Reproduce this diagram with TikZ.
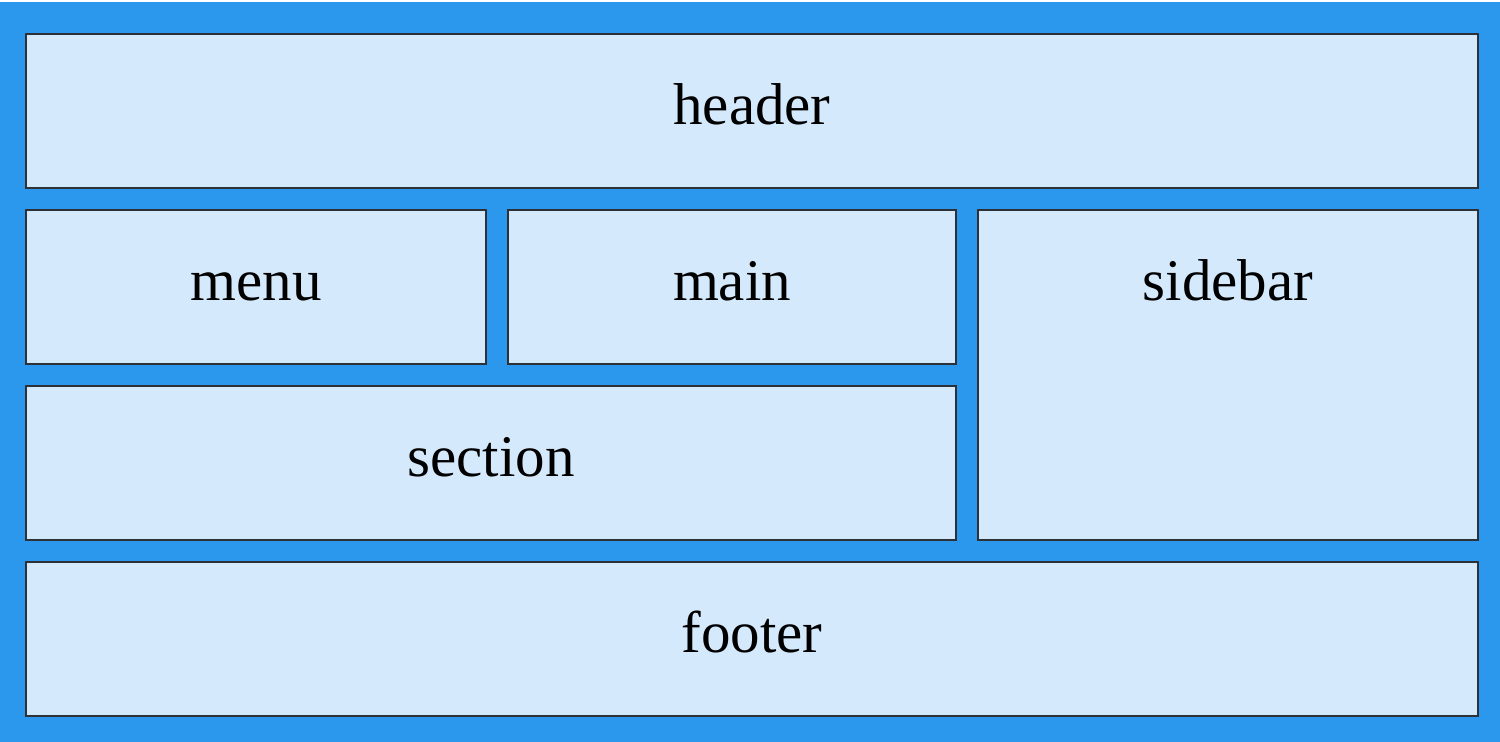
\documentclass[tikz,border=0pt]{standalone}
\usepackage{fontspec}
\setmainfont{Liberation Serif}
\usepackage{tikz}
\usetikzlibrary{positioning}
\definecolor{page}{RGB}{43,151,237}
\definecolor{cell}{RGB}{212,233,252}
\definecolor{edge}{RGB}{44,49,56}

\begin{document}
\begin{tikzpicture}[
  area/.style = {
    draw = edge,
    fill = cell,
    line width = 1pt,
    rectangle,
    inner sep = 0pt,
    minimum height = 77pt,
    text height = 20pt,
    text depth = 6.5pt,
    font = \fontsize{29.5pt}{35pt}\selectfont,
  },
  node distance = 10pt,
]

  \useasboundingbox (0,0) rectangle (750pt,-371pt);
  \fill[page] (0,-1pt) rectangle (750pt,-371pt);

  \node[area,minimum width=726pt,anchor=north west] (header) at (12.5pt,-16.5pt) {header};

  \node[area,minimum width=230pt] (menu) [below=of header.south west,anchor=north west] {menu};
  \node[area,minimum width=224pt] (main) [right=of menu] {main};
  \node[area,minimum width=250pt,minimum height=165pt] (sidebar) [right=of main.north east,anchor=north west] {};
  \node[anchor=base,font=\fontsize{29.5pt}{35pt}\selectfont] (sidebartext) at ([yshift=-46pt]sidebar.north) {sidebar};

  \node[area,minimum width=465pt] (section) [below=of menu.south west,anchor=north west] {section};
  \node[area,minimum width=726pt] (footer) [below=of section.south west,anchor=north west] {footer};
\end{tikzpicture}
\end{document}
